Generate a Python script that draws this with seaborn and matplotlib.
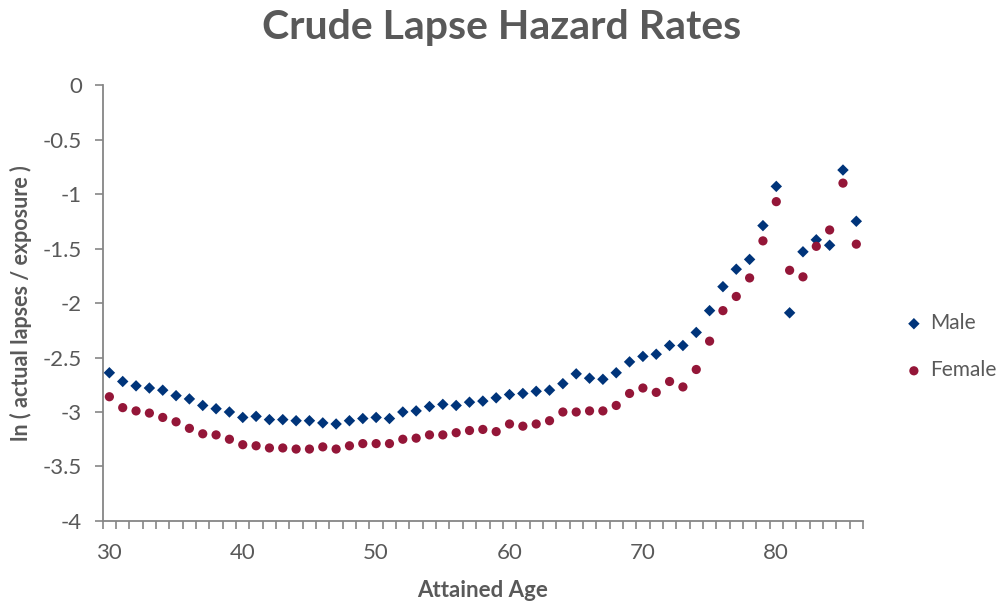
import numpy as np
import pandas as pd
import matplotlib
matplotlib.use("Agg")
import matplotlib.pyplot as plt
import seaborn as sns
from matplotlib.ticker import FixedLocator

### data
ages = list(range(30, 87))
male = [-2.64, -2.72, -2.76, -2.78, -2.80, -2.85, -2.88, -2.94, -2.97, -3.00,
        -3.05, -3.04, -3.07, -3.07, -3.08, -3.08, -3.10, -3.11, -3.08, -3.06,
        -3.05, -3.06, -3.00, -2.99, -2.95, -2.93, -2.94, -2.91, -2.90, -2.87,
        -2.84, -2.83, -2.81, -2.80, -2.74, -2.65, -2.69, -2.70, -2.64, -2.54,
        -2.49, -2.47, -2.39, -2.39, -2.27, -2.07, -1.85, -1.69, -1.60, -1.29,
        -0.93, -2.09, -1.53, -1.42, -1.47, -0.78, -1.25]
female = [-2.86, -2.96, -2.99, -3.01, -3.05, -3.09, -3.15, -3.20, -3.21, -3.25,
          -3.30, -3.31, -3.33, -3.33, -3.34, -3.34, -3.32, -3.34, -3.31, -3.29,
          -3.29, -3.29, -3.25, -3.24, -3.21, -3.21, -3.19, -3.17, -3.16, -3.18,
          -3.11, -3.13, -3.11, -3.08, -3.00, -3.00, -2.99, -2.99, -2.94, -2.83,
          -2.78, -2.82, -2.72, -2.77, -2.61, -2.35, -2.07, -1.94, -1.77, -1.43,
          -1.07, -1.70, -1.76, -1.48, -1.33, -0.90, -1.46]
y_ticks = [0, -0.5, -1, -1.5, -2, -2.5, -3, -3.5, -4]
x_labels = [30, 40, 50, 60, 70, 80]

male_color = '#00347A'
female_color = '#941638'
text_color = '#595959'
axis_color = '#868686'

sns.set_style("white")
plt.rcParams['font.family'] = ['Lato', 'DejaVu Sans']

df = pd.DataFrame({'age': ages, 'Male': male, 'Female': female})

fig = plt.figure(figsize=(10.03, 6.03), dpi=100)
ax = fig.add_axes([0.1024, 0.136, 0.758, 0.723])

sns.scatterplot(data=df, x='age', y='Male', ax=ax, marker='D', s=34,
                color=male_color, edgecolor='none', label='Male', legend=False)
sns.scatterplot(data=df, x='age', y='Female', ax=ax, marker='o', s=44,
                color=female_color, edgecolor='none', label='Female', legend=False)

### category style axis: boundaries between ages, labels at decades
ax.set_xlim(29.5, 86.5)
ax.set_ylim(-4, 0)
ax.set_xticks(x_labels)
ax.set_xticklabels([str(v) for v in x_labels])
ax.xaxis.set_minor_locator(FixedLocator(np.arange(29.5, 87, 1)))
ax.tick_params(axis='x', which='major', length=0, pad=16, labelsize=16, labelcolor=text_color)
ax.tick_params(axis='x', which='minor', length=6, width=1.2, color=axis_color, bottom=True)
ax.set_yticks(y_ticks)
ax.set_yticklabels(['0' if v == 0 else ('%g' % v) for v in y_ticks])
ax.tick_params(axis='y', length=6, width=1.2, color=axis_color, left=True, pad=9,
               labelsize=16, labelcolor=text_color)

for side in ['top', 'right']:
    ax.spines[side].set_visible(False)
for side in ['left', 'bottom']:
    ax.spines[side].set_color(axis_color)
    ax.spines[side].set_linewidth(1.3)

ax.set_xlabel('Attained Age', fontsize=16, fontweight='bold', color=text_color, labelpad=12)
ax.set_ylabel('ln ( actual lapses / exposure )', fontsize=15.5, fontweight='bold',
              color=text_color, labelpad=8)
fig.suptitle('Crude Lapse Hazard Rates', fontsize=29.5, fontweight='bold',
             color=text_color, x=0.5, y=0.985)

handles, labels = ax.get_legend_handles_labels()
fig.legend(handles, labels, loc='center left', bbox_to_anchor=(0.88, 0.425),
           frameon=False, fontsize=15, labelcolor=text_color, handletextpad=0.2,
           labelspacing=1.3, handlelength=1.2)

plt.savefig('out.png', dpi=100)
